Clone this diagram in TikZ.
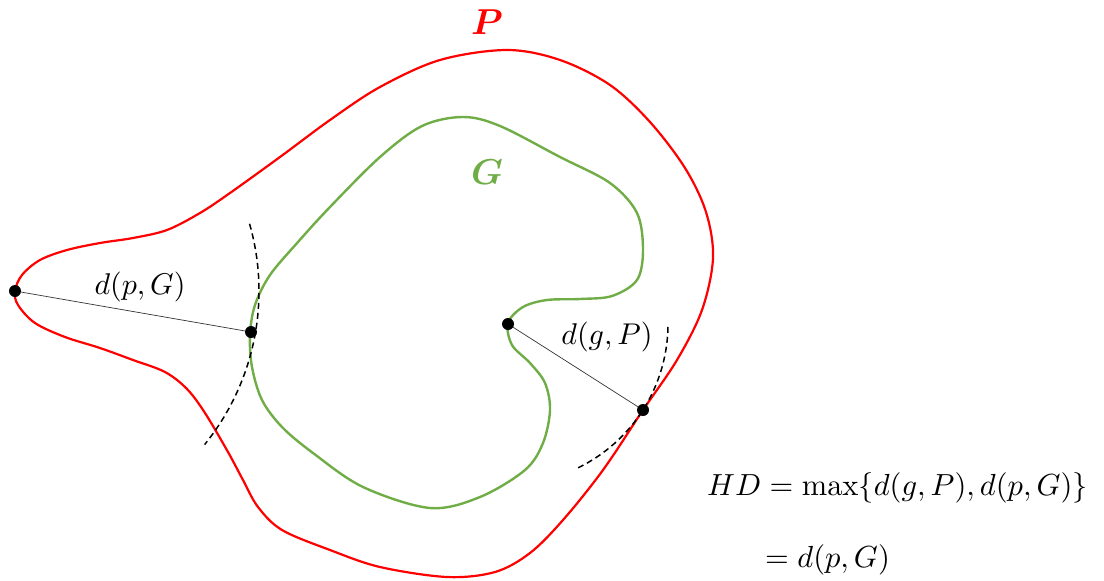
\documentclass[tikz,border=0pt]{standalone}
\usepackage{graphicx}
\usepackage{bm}
\newcommand{\bigtxt}[2]{\scalebox{#1}{#2}}
\begin{document}
\begin{tikzpicture}[x=1pt,y=-1pt,
  dot/.style={circle,fill=black,inner sep=0pt,minimum size=12pt},
  pcurve/.style={draw={rgb,255:red,255;green,0;blue,0},line width=2.2pt},
  gcurve/.style={draw={rgb,255:red,112;green,173;blue,71},line width=2.4pt},
  dist/.style={draw=black!80,line width=0.7pt},
  arcline/.style={draw=black,line width=1.5pt,dash pattern=on 6pt off 4pt},
  lbl/.style={inner sep=0pt}]
\useasboundingbox (0,0) rectangle (1104,581);
% P
\draw[pcurve] plot[smooth cycle,tension=0.55] coordinates {
 (15,291) (22,275) (40,260) (67,250) (100,243) (133,238) (167,230) (200,213)
 (230,193) (280,157) (330,120) (380,87) (440,60) (507,50) (560,60)
 (610,85) (650,122) (685,168) (706,212) (713,258) (702,310) (677,360)
 (643,410) (603,470) (563,520) (530,553) (495,572) (447,577) (380,567)
 (330,550) (282,530) (258,507) (243,480) (228,452) (205,413) (187,389)
 (165,372) (133,360) (100,348) (65,337) (35,323) (18,305)};
% G
\draw[gcurve] plot[smooth cycle,tension=0.55] coordinates {
 (508,323) (523,307) (547,300) (580,299) (612,296) (637,280) (643,250)
 (637,213) (610,183) (560,157) (500,126) (463,117) (422,126) (380,157)
 (330,207) (298,242) (270,275) (255,305) (250,335) (252,367) (262,400)
 (282,427) (313,453) (363,487) (430,508) (480,497) (525,470) (543,443)
 (550,410) (545,383) (530,363) (512,345)};
% points
\node[dot] (p) at (15,291) {};
\node[dot] (q) at (251,332) {};
\node[dot] (g) at (508,324) {};
\node[dot] (r) at (643,410) {};
% dashed arcs
\draw[arcline] (p) ++(-16:244) arc[start angle=-16,end angle=39,radius=244];
\draw[arcline] (g) ++(1:160) arc[start angle=1,end angle=64,radius=160];
% distances
\draw[dist] (p) -- (q);
\draw[dist] (g) -- (r);
% labels
\node[lbl] (l1) at (140,287) {\bigtxt{3}{$d(p,G)$}};
\node[lbl] (l2) at (607,337) {\bigtxt{3}{$d(g,P)$}};
\node[lbl,text={rgb,255:red,255;green,0;blue,0}] (lP) at (487,22) {\bigtxt{3.6}{$\bm{P}$}};
\node[lbl,text={rgb,255:red,112;green,173;blue,71}] (lG) at (487,172) {\bigtxt{3.6}{$\bm{G}$}};
\node[lbl,anchor=west] (e1) at (707,488) {\bigtxt{3.05}{$HD=\max\{d(g,P),d(p,G)\}$}};
\node[lbl,anchor=west] (e2) at (765,560) {\bigtxt{3.05}{$=d(p,G)$}};
\end{tikzpicture}
\end{document}
